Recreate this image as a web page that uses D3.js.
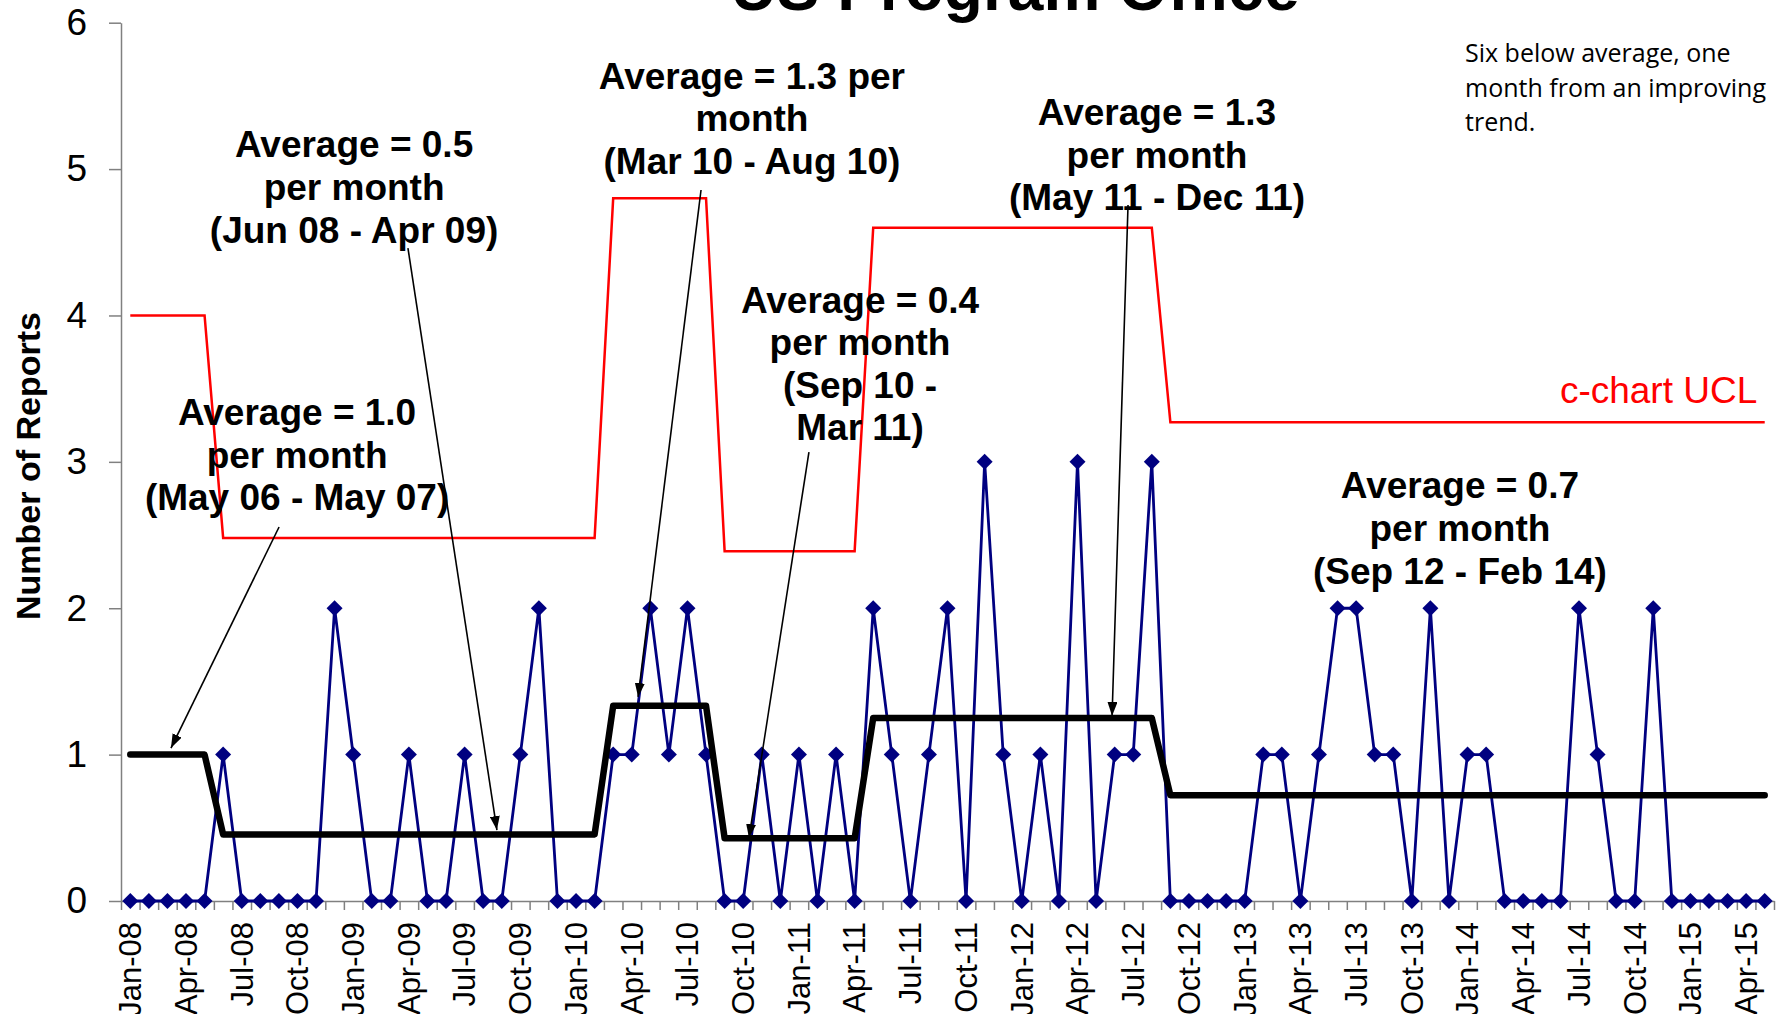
<!DOCTYPE html>
<html>
<head>
<meta charset="utf-8">
<script src="https://cdn.jsdelivr.net/npm/d3@7"></script>
<style>
  body { margin: 0; background: #fff; }
  svg { display: block; font-family: "Liberation Sans", Arial, sans-serif; }
</style>
</head>
<body>
<div class="wrapper"></div>
<script>
const w = 1781
const h = 1014
const plotLeft = 121
const plotRight = 1774
const plotTop = 22.7
const plotBottom = 901
const axisGrey = "#808080"

// months Jan-08 .. May-15
const firstMonth = new Date(2008, 0, 1)
const lastMonth = new Date(2015, 4, 1)

// reports per month, one row per year
const reports = [
  0, 0, 0, 0, 0, 1, 0, 0, 0, 0, 0, 2,
  1, 0, 0, 1, 0, 0, 1, 0, 0, 1, 2, 0,
  0, 0, 1, 1, 2, 1, 2, 1, 0, 0, 1, 0,
  1, 0, 1, 0, 2, 1, 0, 1, 2, 0, 3, 1,
  0, 1, 0, 3, 0, 1, 1, 3, 0, 0, 0, 0,
  0, 1, 1, 0, 1, 2, 2, 1, 1, 0, 2, 0,
  1, 1, 0, 0, 0, 0, 2, 1, 0, 0, 2, 0,
  0, 0, 0, 0, 0
]

// phases of the average / c-chart UCL step lines (month index)
const phaseStart = [0, 5, 26, 32, 40, 56]
const phaseEnd = [4, 25, 31, 39, 55, 88]
const phaseAverage = [1.0, 0.455, 1.333, 0.429, 1.25, 0.722]
const phaseUcl = [4.0, 2.48, 4.8, 2.39, 4.6, 3.27]

const yTicks = [0, 1, 2, 3, 4, 5, 6]
const xTickLabels = [
  "Jan-08", "Apr-08", "Jul-08", "Oct-08", "Jan-09", "Apr-09", "Jul-09", "Oct-09",
  "Jan-10", "Apr-10", "Jul-10", "Oct-10", "Jan-11", "Apr-11", "Jul-11", "Oct-11",
  "Jan-12", "Apr-12", "Jul-12", "Oct-12", "Jan-13", "Apr-13", "Jul-13", "Oct-13",
  "Jan-14", "Apr-14", "Jul-14", "Oct-14", "Jan-15", "Apr-15"
]

// callouts: text lines, centre (month index) and first baseline (value)
const calloutLines = [
  ["Average = 1.0", "per month", "(May 06 - May 07)"],
  ["Average = 0.5", "per month", "(Jun 08 - Apr 09)"],
  ["Average = 1.3 per", "month", "(Mar 10 - Aug 10)"],
  ["Average = 0.4", "per month", "(Sep 10 -", "Mar 11)"],
  ["Average = 1.3", "per month", "(May 11 - Dec 11)"],
  ["Average = 0.7", "per month", "(Sep 12 - Feb 14)"]
]
const calloutX = [8.98, 12.05, 33.47, 39.29, 55.28, 71.59]
const calloutY = [3.25, 5.08, 5.55, 4.02, 5.30, 2.75]

// arrows from callout to the average line (month index, value)
const arrowFrom = [[8.01, 2.555], [14.95, 4.46], [30.73, 4.857], [36.54, 3.067], [53.72, 4.755]]
const arrowTo = [[2.19, 1.045], [19.74, 0.485], [27.34, 1.394], [33.31, 0.43], [52.86, 1.264]]

const months = d3.timeMonth.range(firstMonth, d3.timeMonth.offset(lastMonth, 1))
const categories = months.map(d3.timeFormat("%b-%y"))

const x = d3.scaleLinear().domain([-0.5, reports.length - 0.5]).range([plotLeft, plotRight])
const y = d3.scaleLinear().domain([0, 6]).range([plotBottom, plotTop])

const svg = d3.select(".wrapper")
  .append("svg")
  .attr("width", w)
  .attr("height", h)

svg.append("defs").append("marker")
  .attr("id", "head")
  .attr("viewBox", "0 0 14 10")
  .attr("refX", 14)
  .attr("refY", 5)
  .attr("markerWidth", 14)
  .attr("markerHeight", 10)
  .attr("markerUnits", "userSpaceOnUse")
  .attr("orient", "auto")
  .append("path")
  .attr("d", "M0,0 L14,5 L0,10 Z")
  .attr("fill", "#000")

// title, cut off at the top like the original
svg.append("text")
  .attr("x", 1015)
  .attr("y", 10)
  .attr("text-anchor", "middle")
  .attr("font-weight", "bold")
  .attr("font-size", 64)
  .text("US Program Office")

// axes
const xAxis = d3.axisBottom(x)
  .tickValues(d3.range(-0.5, reports.length, 1))
  .tickSize(9)
  .tickSizeOuter(0)
  .tickFormat("")
const gx = svg.append("g")
  .attr("transform", "translate(0," + plotBottom + ")")
  .call(xAxis)
gx.selectAll("path, line").attr("stroke", axisGrey).attr("stroke-width", 1.5)

svg.append("g")
  .selectAll("text")
  .data(xTickLabels)
  .join("text")
  .attr("transform", (d) => "translate(" + x(categories.indexOf(d)) + "," + (plotBottom + 21) + ") rotate(-90)")
  .attr("dy", "0.35em")
  .attr("text-anchor", "end")
  .attr("font-size", 31)
  .text((d) => d)

const yAxis = d3.axisLeft(y)
  .tickValues(yTicks)
  .tickFormat(d3.format("d"))
  .tickSize(12)
  .tickSizeOuter(0)
  .tickPadding(22)
const gy = svg.append("g")
  .attr("transform", "translate(" + plotLeft + ",0)")
  .call(yAxis)
gy.attr("font-size", 37).attr("font-family", null)
gy.selectAll("path, line").attr("stroke", axisGrey).attr("stroke-width", 1.5)
gy.selectAll("text").attr("fill", "#000")

svg.append("text")
  .attr("transform", "translate(28,466) rotate(-90)")
  .attr("dy", "0.35em")
  .attr("text-anchor", "middle")
  .attr("font-weight", "bold")
  .attr("font-size", 34)
  .text("Number of Reports")

// reports series
const line = d3.line().x((d, i) => x(i)).y((d) => y(d))
svg.append("path")
  .datum(reports)
  .attr("d", line)
  .attr("fill", "none")
  .attr("stroke", "#000080")
  .attr("stroke-width", 2.8)

const diamond = {
  draw(ctx, size) {
    const r = Math.sqrt(size) / 2
    ctx.moveTo(0, -r)
    ctx.lineTo(r, 0)
    ctx.lineTo(0, r)
    ctx.lineTo(-r, 0)
    ctx.closePath()
  }
}
svg.append("g")
  .selectAll("path")
  .data(reports)
  .join("path")
  .attr("transform", (d, i) => "translate(" + x(i) + "," + y(d) + ")")
  .attr("d", d3.symbol(diamond, 256))
  .attr("fill", "#000080")

// step lines
const stepPoints = (values) => phaseStart.flatMap((s, k) => [[s, values[k]], [phaseEnd[k], values[k]]])
const stepLine = d3.line().x((d) => x(d[0])).y((d) => y(d[1]))

svg.append("path")
  .datum(stepPoints(phaseUcl))
  .attr("d", stepLine)
  .attr("fill", "none")
  .attr("stroke", "#ff0000")
  .attr("stroke-width", 2.5)

svg.append("path")
  .datum(stepPoints(phaseAverage))
  .attr("d", stepLine)
  .attr("fill", "none")
  .attr("stroke", "#000")
  .attr("stroke-width", 6.5)
  .attr("stroke-linejoin", "round")
  .attr("stroke-linecap", "round")

svg.append("text")
  .attr("x", x(87.6))
  .attr("y", y(3.40))
  .attr("text-anchor", "end")
  .attr("fill", "#ff0000")
  .attr("font-size", 37)
  .text("c-chart UCL")

// callouts and arrows
svg.append("g")
  .selectAll("line")
  .data(arrowFrom)
  .join("line")
  .attr("x1", (d) => x(d[0]))
  .attr("y1", (d) => y(d[1]))
  .attr("x2", (d, i) => x(arrowTo[i][0]))
  .attr("y2", (d, i) => y(arrowTo[i][1]))
  .attr("stroke", "#000")
  .attr("stroke-width", 1.6)
  .attr("marker-end", "url(#head)")

const callouts = svg.append("g")
  .selectAll("text")
  .data(calloutLines)
  .join("text")
  .attr("text-anchor", "middle")
  .attr("font-weight", "bold")
  .attr("font-size", 37)
callouts.selectAll("tspan")
  .data((d, i) => d.map((t) => ({ t: t, i: i })))
  .join("tspan")
  .attr("x", (d) => x(calloutX[d.i]))
  .attr("y", (d, j) => y(calloutY[d.i]) + j * 42.6)
  .text((d) => d.t)

// side note
svg.append("text")
  .attr("font-family", "'Open Sans', sans-serif")
  .attr("font-size", 25)
  .selectAll("tspan")
  .data(["Six below average, one", "month from an improving", "trend."])
  .join("tspan")
  .attr("x", 1465)
  .attr("y", (d, j) => 62 + j * 34.5)
  .text((d) => d)
</script>
</body>
</html>
